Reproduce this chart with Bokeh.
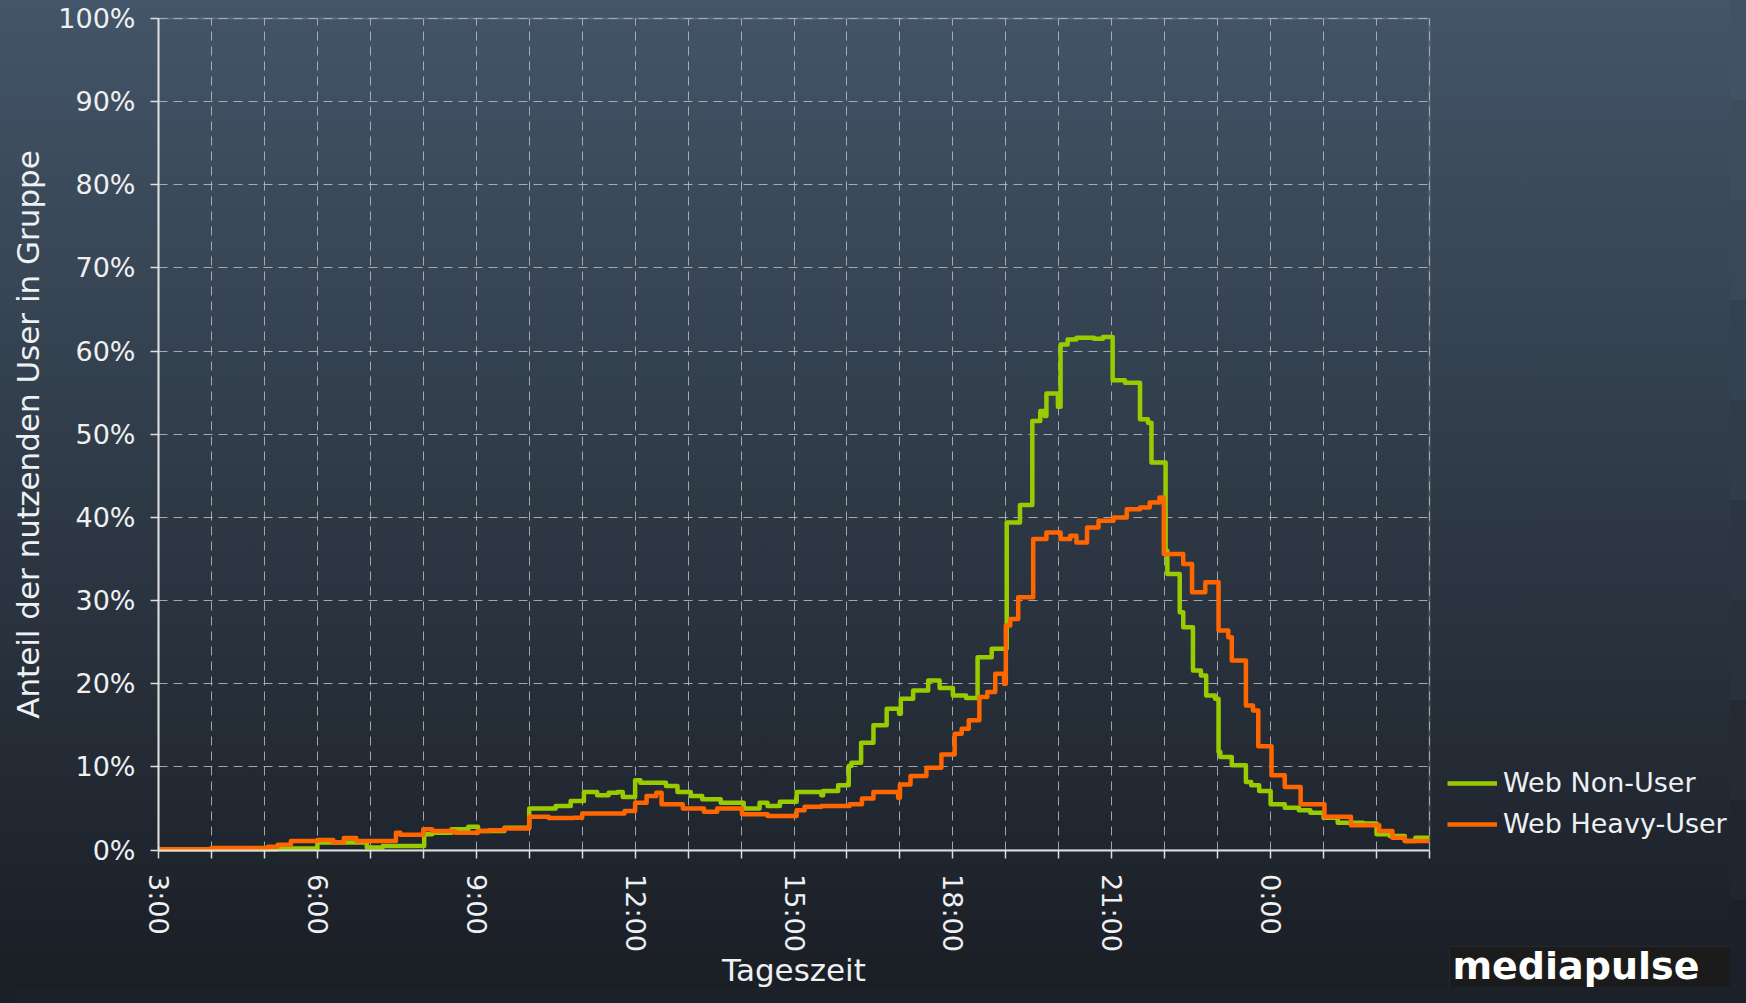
from bokeh.plotting import figure
from bokeh.models import (FixedTicker, PrintfTickFormatter, Legend, LegendItem,
                          Label, Range1d, BoxAnnotation)
from bokeh.embed import file_html
from bokeh.resources import INLINE

# ---------------- data ----------------
series_names = ["Web Non-User", "Web Heavy-User"]

nonuser_times = ["3:00", "5:15", "6:00", "6:56", "7:14", "8:01", "8:10", "8:32", "8:51", "9:02", "9:32",
                 "10:00", "10:30", "10:47", "11:02", "11:17", "11:30", "11:40", "11:46", "12:00", "12:06", "12:35", "12:48",
                 "13:03", "13:16", "13:37", "14:03", "14:21", "14:30", "14:44", "15:03", "15:31", "15:33", "15:50",
                 "16:02", "16:05", "16:16", "16:30", "16:45", "16:59", "17:01", "17:15", "17:32", "17:45", "18:00", "18:15",
                 "18:28", "18:44", "19:01", "19:16", "19:30", "19:39", "19:44", "19:46", "19:59", "20:02", "20:10", "20:20",
                 "20:40", "20:50", "21:01", "21:15", "21:32", "21:41", "21:45", "22:01", "22:03", "22:17", "22:21", "22:32",
                 "22:41", "22:47", "22:57", "23:01", "23:03", "23:16", "23:32", "23:38", "23:47", "0:00", "0:16", "0:32", "0:45",
                 "1:00", "1:16", "1:45", "2:00", "2:15", "2:32", "2:44", "3:00"]
nonuser_values = [0.1, 0.2, 0.9, 0.3, 0.5, 1.9, 2.1, 2.5, 2.8, 2.3, 2.7,
                  5.0, 5.3, 5.9, 7.0, 6.6, 6.9, 7.0, 6.4, 8.4, 8.1, 7.7, 7.0,
                  6.5, 6.1, 5.7, 5.0, 5.7, 5.3, 5.8, 7.0, 6.6, 7.1, 7.8,
                  10.1, 10.5, 12.9, 15.0, 17.0, 16.4, 18.2, 19.2, 20.4, 19.5, 18.6, 18.3,
                  23.2, 24.2, 39.4, 41.5, 51.6, 52.8, 52.2, 54.9, 53.3, 60.8, 61.4, 61.6,
                  61.5, 61.7, 56.5, 56.2, 51.8, 51.4, 46.6, 36.0, 33.2, 28.6, 26.8, 21.6,
                  21.0, 18.6, 18.2, 11.8, 11.2, 10.2, 8.2, 7.8, 7.1, 5.5, 5.1, 4.8, 4.5,
                  3.9, 3.3, 3.2, 1.9, 1.7, 1.1, 1.5, 1.5]

heavy_times = ["3:00", "4:00", "5:04", "5:15", "5:30", "6:00", "6:18", "6:30", "6:44", "7:29", "7:34", "8:00", "8:10", "8:36", "9:02", "9:15", "9:32",
               "10:00", "10:22", "10:50", "11:00", "11:48", "12:00", "12:13", "12:24", "12:30", "12:54", "13:18", "13:33", "14:01", "14:30",
               "15:03", "15:12", "15:31", "16:03", "16:17", "16:30", "16:58", "17:00", "17:12", "17:30", "17:47", "18:02", "18:10", "18:18",
               "18:30", "18:39", "18:48", "18:58", "19:00", "19:05", "19:14", "19:31", "19:46", "20:02", "20:13", "20:20", "20:32", "20:45",
               "21:02", "21:17", "21:32", "21:43", "21:54", "21:59", "22:21", "22:31", "22:46", "23:01", "23:12", "23:16", "23:32", "23:40", "23:46",
               "0:01", "0:16", "0:34", "1:01", "1:31", "2:03", "2:18", "2:32", "3:00"]
heavy_values = [0.1, 0.25, 0.4, 0.65, 1.1, 1.2, 0.9, 1.45, 1.1, 2.1, 1.85, 2.5, 2.3, 2.1, 2.3, 2.4, 2.6,
                4.0, 3.85, 3.9, 4.4, 4.7, 5.7, 6.5, 6.9, 5.5, 5.0, 4.6, 5.0, 4.3, 4.1,
                4.8, 5.2, 5.3, 5.5, 6.2, 7.0, 6.3, 7.9, 8.9, 9.9, 11.5, 14.0, 14.6, 15.6,
                18.4, 19.0, 21.2, 20.0, 27.0, 27.8, 30.4, 37.4, 38.2, 37.4, 37.8, 37.0, 38.8, 39.6,
                40.0, 41.0, 41.2, 41.8, 42.4, 35.6, 34.4, 31.0, 32.2, 26.4, 25.6, 22.8, 17.4, 16.8, 12.5,
                9.0, 7.6, 5.5, 4.0, 3.0, 2.3, 1.5, 1.1, 1.1]

x_tick_hours = list(range(3, 28))
x_tick_labels = ["3:00", "", "", "6:00", "", "", "9:00", "", "", "12:00", "", "", "15:00", "", "",
                 "18:00", "", "", "21:00", "", "", "0:00", "", "", ""]
y_ticks = [0, 10, 20, 30, 40, 50, 60, 70, 80, 90, 100]


def to_hours(times):
    out, prev = [], -1.0
    for s in times:
        h, m = s.split(":")
        t = int(h) + int(m) / 60.0
        while t < prev:
            t += 24
        out.append(t)
        prev = t
    return out


nonuser_x = to_hours(nonuser_times)
heavy_x = to_hours(heavy_times)

# ---------------- layout (pixels of the canvas) ----------------
W, H = 1730, 987
PLOT_L, PLOT_R, PLOT_T, PLOT_B = 158, 1429, 18, 849.6
x0, x1 = x_tick_hours[0], x_tick_hours[-1]
y0, y1 = y_ticks[0], y_ticks[-1]
px_per_x = (PLOT_R - PLOT_L) / (x1 - x0)
px_per_y = (PLOT_B - PLOT_T) / (y1 - y0)
x_range = Range1d(x0 - PLOT_L / px_per_x, x1 + (W - PLOT_R) / px_per_x)
y_range = Range1d(y0 - (H - PLOT_B) / px_per_y, y1 + PLOT_T / px_per_y)

FONT = "DejaVu Sans"
TXT = "#eef0f2"

# page strips right/bottom of the canvas continue the dark gradient
strip_colors = ["#1c2028", "#20262e", "#242b35", "#28313c", "#2c3643",
                "#303c49", "#344150", "#394757", "#3d4d5e", "#415265"]
shadows = [f"16px {900 - 100 * i}px 0 0 {c}" for i, c in enumerate(strip_colors)]
shadows.append("0 16px 0 0 #1a1e25")

p = figure(width=W, height=H, x_range=x_range, y_range=y_range, title=None,
           output_backend="svg", toolbar_location=None,
           min_border=0, min_border_left=0, min_border_right=0,
           min_border_top=0, min_border_bottom=0)
p.border_fill_color = None
p.background_fill_color = None
p.outline_line_color = None
p.styles = {"background": "linear-gradient(180deg, #435568 0%, #1a1e25 100%)",
            "box-shadow": ", ".join(shadows)}

# data-area border (top / right edges)
p.add_layout(BoxAnnotation(left=x0, right=x1, bottom=y0, top=y1, fill_color=None,
                           line_color="#a0a4a8", line_width=2, level="underlay"))

# x axis
xa = p.xaxis[0]
xa.fixed_location = y0
xa.bounds = (x0, x1)
xa.ticker = FixedTicker(ticks=x_tick_hours)
xa.major_label_overrides = {h: lab for h, lab in zip(x_tick_hours, x_tick_labels)}
xa.major_label_orientation = "vertical"
xa.major_label_standoff = 16
xa.axis_label = "Tageszeit"
xa.axis_label_standoff = -3

# y axis
ya = p.yaxis[0]
ya.fixed_location = x0
ya.bounds = (y0, y1)
ya.ticker = FixedTicker(ticks=y_ticks)
ya.formatter = PrintfTickFormatter(format="%d%%")
ya.axis_label = "Anteil der nutzenden User in Gruppe"
ya.major_label_standoff = 15
ya.axis_label_standoff = 9

for ax in (xa, ya):
    ax.axis_line_color = "#dcdee0"
    ax.axis_line_width = 2
    ax.major_tick_line_color = "#dcdee0"
    ax.major_tick_line_width = 1.5
    ax.major_tick_out = 8
    ax.major_tick_in = 0
    ax.minor_tick_line_color = None
    ax.major_label_text_font = FONT
    ax.major_label_text_font_size = "27px"
    ax.major_label_text_color = TXT
    ax.axis_label_text_font = FONT
    ax.axis_label_text_font_size = "31px"
    ax.axis_label_text_font_style = "normal"
    ax.axis_label_text_color = TXT

xg, yg = p.xgrid[0], p.ygrid[0]
xg.ticker = FixedTicker(ticks=x_tick_hours)
yg.ticker = FixedTicker(ticks=y_ticks)
xg.bounds = (x0, x1)
xg.cross_bounds = (y0, y1)
yg.bounds = (y0, y1)
yg.cross_bounds = (x0, x1)
for g in (xg, yg):
    g.grid_line_color = "#b8bcc0"
    g.grid_line_alpha = 0.85
    g.grid_line_width = 1
    g.grid_line_dash = "9 6"

# ---------------- lines ----------------
r1 = p.step(nonuser_x, nonuser_values, mode="after", line_color="#99cc00",
            line_width=4.5, line_join="round")
r2 = p.step(heavy_x, heavy_values, mode="after", line_color="#ff6600",
            line_width=4.5, line_join="round")

legend = Legend(items=[LegendItem(label=series_names[0], renderers=[r1]),
                       LegendItem(label=series_names[1], renderers=[r2])],
                location=(1447, 148), orientation="vertical",
                glyph_width=50, glyph_height=30, label_standoff=6, spacing=10,
                padding=0, margin=0, border_line_color=None, background_fill_alpha=0,
                label_text_font=FONT, label_text_font_size="27px", label_text_color=TXT)
p.add_layout(legend)

# logo (bottom right corner)
p.add_layout(BoxAnnotation(left=1449, right=W, bottom=0, top=H - 946,
                           left_units="screen", right_units="screen",
                           bottom_units="screen", top_units="screen",
                           fill_color="#1b1b1b", fill_alpha=1,
                           line_color="#3c4248", line_width=1))
logo = Label(x=1452, y=H - 943, x_units="screen", y_units="screen", text="mediapulse",
             text_align="left", text_baseline="top",
             text_font=FONT, text_font_style="bold", text_font_size="38px",
             text_color="#ffffff")
p.add_layout(logo)

open("out.html", "w").write(file_html(p, INLINE))
